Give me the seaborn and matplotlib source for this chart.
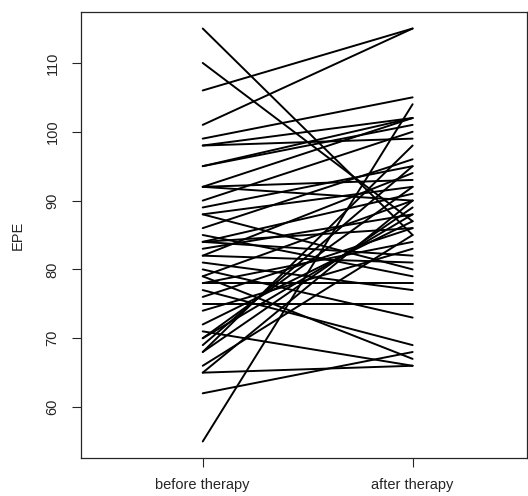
import numpy as np
import pandas as pd
import matplotlib
matplotlib.use("Agg")
import matplotlib.pyplot as plt
import seaborn as sns

# EPE per patient (same order in both lists)
before = [115, 110, 106, 101, 99, 98, 98, 95, 95, 92, 92, 92, 90, 89, 88, 88,
          86, 85, 84, 84, 84, 83, 82, 82, 81, 80, 79, 79, 78, 78, 77, 76, 75,
          74, 72, 71, 70, 70, 69, 68, 68, 66, 65, 65, 62, 55]
after = [85, 87, 115, 115, 105, 99, 102, 102, 101, 102, 93, 90, 100, 95, 92, 80,
         96, 79, 91, 86, 82, 88, 94, 81, 77, 73, 67, 90, 78, 84, 69, 86, 75,
         83, 87, 66, 88, 92, 95, 98, 89, 85, 90, 66, 68, 104]
groups = ["before therapy", "after therapy"]

n = len(before)
df = pd.DataFrame({
    "id": list(range(n)) * 2,
    "time": [1] * n + [2] * n,
    "EPE": before + after,
})

sns.set_style("ticks")
plt.rcParams["font.family"] = ["Liberation Sans", "DejaVu Sans"]

fig = plt.figure(figsize=(5.28, 4.96), dpi=100)
ax = fig.add_axes([81 / 528, 38 / 496, 446 / 528, 446 / 496])

sns.lineplot(data=df, x="time", y="EPE", units="id", estimator=None,
             color="black", linewidth=1.4, ax=ax)

ax.set_xlim(0.42, 2.545)
ax.set_ylim(52.6, 117.4)
ax.set_xticks([1, 2])
ax.set_xticklabels(groups, fontsize=10.5)
ax.set_yticks(range(60, 111, 10))
ax.set_yticklabels([str(v) for v in range(60, 111, 10)], fontsize=10.5,
                   rotation=90, va="center")
ax.tick_params(length=6.5, width=0.8)
ax.tick_params(axis="x", pad=8)
ax.tick_params(axis="y", pad=9)
ax.set_xlabel("")
ax.set_ylabel("EPE", fontsize=10.5, labelpad=15)
for s in ax.spines.values():
    s.set_linewidth(0.9)

fig.savefig("out.png", dpi=100)
